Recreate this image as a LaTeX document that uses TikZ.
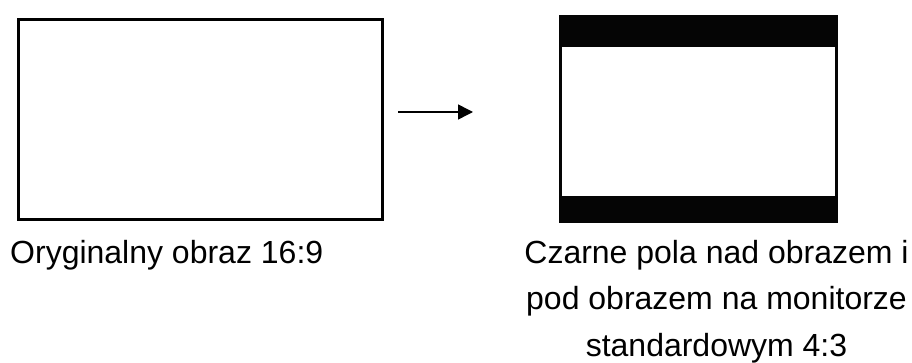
\documentclass[tikz,border=0pt]{standalone}
\usepackage{fontspec}
\setmainfont{Liberation Sans}
\usetikzlibrary{arrows.meta}
\begin{document}
\begin{tikzpicture}[x=1pt,y=-1pt,
  lbl/.style={inner sep=0pt,font=\fontsize{32}{40}\selectfont},
  framebox/.style={draw=black,line width=3pt},
  conn/.style={line width=1.5pt,-{Triangle[length=15pt,width=15pt]}}]
\useasboundingbox (0,0) rectangle (912,363);
% left 16:9 picture
\draw[framebox] (18.5,19.5) rectangle (382,219.5);
\coordinate (leftbox) at (200,119.5);
% right 4:3 monitor with black bars
\fill[black!98] (559,15) rectangle (838,223);
\fill[white] (562,47) rectangle (835,196);
\node[inner sep=0pt,minimum width=279pt,minimum height=208pt] (rightbox) at (698.5,119) {};
% arrow
\coordinate (arrS) at (398,112);
\coordinate (arrE) at (473,112);
\draw[conn] (arrS) -- (arrE);
% labels
\node[lbl,anchor=base west] (t1) at (10,263) {Oryginalny obraz 16:9};
\node[lbl,anchor=base] (t2) at (716.5,263) {Czarne pola nad obrazem i};
\node[lbl,anchor=base] (t3) at (716.5,309.5) {pod obrazem na monitorze};
\node[lbl,anchor=base] (t4) at (716.5,356) {standardowym 4:3};
\end{tikzpicture}
\end{document}
